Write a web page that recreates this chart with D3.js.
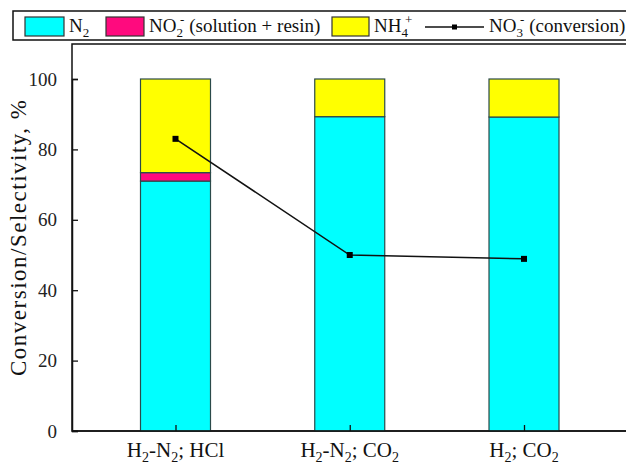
<!DOCTYPE html>
<html><head><meta charset="utf-8">
<script src="https://cdn.jsdelivr.net/npm/d3@7"></script>
<style>
body{margin:0;background:#fff}
svg{display:block}
svg text, svg tspan{font-family:"Liberation Serif", Tinos, "Nimbus Roman", FreeSerif, "Times New Roman" !important;}
</style>
</head><body>
<svg id="c" width="626" height="467" font-family="Liberation Serif"></svg>
<script>
const categories = [["H","2","-N","2","; HCl"],["H","2","-N","2","; CO","2"],["H","2","; CO","2"]];
const catKeys = ["H2-N2; HCl","H2-N2; CO2","H2; CO2"];
const n2 = [71, 89.3, 89.2];
const no2 = [2.4, 0, 0];
const nh4 = [26.6, 10.7, 10.8];
const no3Conversion = [83, 50, 48.9];
const yTicks = [0, 20, 40, 60, 80, 100];

(function () {
const FONT = "Liberation Serif";
const svg = d3.select("#c");
const pLeft = 72, pTop = 44, pBottom = 431, pRight = 660;
const y = d3.scaleLinear().domain([0, 100]).range([pBottom, 79]);
const x = d3.scalePoint().domain(catKeys).range([175.5, 524]);
const barW = 70;

// frame
svg.append("rect").attr("x", pLeft).attr("y", pTop).attr("width", pRight - pLeft).attr("height", pBottom - pTop)
  .attr("fill", "none").attr("stroke", "#111").attr("stroke-width", 1.5);

// stacked bars
const stackData = catKeys.map((k, i) => ({key: k, n2: n2[i], no2: no2[i], nh4: nh4[i]}));
const stack = d3.stack().keys(["n2", "no2", "nh4"])(stackData);
const colors = {n2: "#00FFFF", no2: "#FF0A7E", nh4: "#FFFF00"};
stack.forEach(layer => {
  svg.append("g").selectAll("rect").data(layer.filter(d => d[1] - d[0] > 0)).join("rect")
    .attr("x", d => x(d.data.key) - barW / 2)
    .attr("width", barW)
    .attr("y", d => y(d[1]))
    .attr("height", d => y(d[0]) - y(d[1]))
    .attr("fill", colors[layer.key])
    .attr("stroke", "#2b4a4a").attr("stroke-width", 1.2);
});

// y axis (ticks inward)
const yAxis = d3.axisRight(y).tickValues(yTicks).tickSize(6).tickFormat(d3.format("d"));
const ga = svg.append("g").attr("transform", `translate(${pLeft},0)`).call(yAxis)
  .attr("font-family", FONT);
ga.select(".domain").attr("stroke", "#111").attr("stroke-width", 1.5);
ga.selectAll(".tick line").attr("stroke", "#111").attr("stroke-width", 1.3);
ga.selectAll(".tick text").attr("x", -15).attr("text-anchor", "end")
  .attr("font-family", FONT).attr("font-size", 19).attr("fill", "#222");

// x axis ticks inward
const xAxis = d3.axisTop(x).tickSize(6).tickFormat("");
const gx = svg.append("g").attr("transform", `translate(0,${pBottom})`).call(xAxis);
gx.select(".domain").remove();
gx.selectAll(".tick line").attr("stroke", "#111").attr("stroke-width", 1.3);
svg.append("line").attr("x1", pLeft).attr("x2", pRight).attr("y1", pBottom).attr("y2", pBottom)
  .attr("stroke", "#111").attr("stroke-width", 1.5);

// x labels with subscripts
function richText(g, parts) {
  parts.forEach((p, j) => {
    const isSub = /^[0-9]$/.test(p);
    g.append("tspan").text(p)
      .attr("font-size", isSub ? 14 : 21)
      .attr("dy", isSub ? 5 : (j > 0 && /^[0-9]$/.test(parts[j - 1]) ? -5 : 0));
  });
}
catKeys.forEach((k, i) => {
  const t = svg.append("text").attr("x", x(k)).attr("y", 457).attr("text-anchor", "middle")
    .attr("font-family", FONT).attr("fill", "#111");
  richText(t, categories[i]);
});

// y label
svg.append("text").attr("transform", "translate(26,238) rotate(-90)").attr("text-anchor", "middle")
  .attr("font-family", FONT).attr("font-size", 23).attr("fill", "#111")
  .attr("textLength", 276).attr("lengthAdjust", "spacing")
  .text("Conversion/Selectivity, %");

// line
const line = d3.line().x((d, i) => x(catKeys[i])).y(d => y(d));
svg.append("path").datum(no3Conversion).attr("d", line).attr("fill", "none").attr("stroke", "#111").attr("stroke-width", 1.5);
svg.append("g").selectAll("rect").data(no3Conversion).join("rect")
  .attr("x", (d, i) => x(catKeys[i]) - 3).attr("y", d => y(d) - 3).attr("width", 6).attr("height", 6).attr("fill", "#000");

// legend
const lg = svg.append("g");
lg.append("rect").attr("x", 13).attr("y", 11).attr("width", 640).attr("height", 29).attr("fill", "#fff")
  .attr("stroke", "#111").attr("stroke-width", 1.5);
function sw(x0, x1, c) {
  lg.append("rect").attr("x", x0).attr("y", 17).attr("width", x1 - x0).attr("height", 19).attr("fill", c)
    .attr("stroke", "#333").attr("stroke-width", 1.2);
}
function legText(x0, parts) {
  const t = lg.append("text").attr("x", x0).attr("y", 32).attr("font-family", FONT).attr("font-size", 19).attr("fill", "#111");
  parts.forEach(p => {
    const ts = t.append("tspan").text(p.t);
    if (p.sub) ts.attr("font-size", 13).attr("dy", 5);
    else if (p.sup) ts.attr("font-size", 13).attr("dy", -13);
    else if (p.reset) ts.attr("dy", p.reset);
    if (p.dx) ts.attr("dx", p.dx);
  });
}
sw(25, 64, colors.n2);
legText(69, [{t: "N"}, {t: "2", sub: true}]);
sw(106, 144, colors.no2);
legText(149, [{t: "NO"}, {t: "2", sub: true}, {t: "-", sup: true, dx: -3}, {t: "(solution + resin)", reset: 8, dx: 5}]);
sw(332, 369, colors.nh4);
legText(374, [{t: "NH"}, {t: "4", sub: true}, {t: "+", sup: true, dx: -3}]);
lg.append("line").attr("x1", 425).attr("x2", 484).attr("y1", 27).attr("y2", 27).attr("stroke", "#111").attr("stroke-width", 1.5);
lg.append("rect").attr("x", 452).attr("y", 24.5).attr("width", 5).attr("height", 5).attr("fill", "#000");
legText(489, [{t: "NO"}, {t: "3", sub: true}, {t: "-", sup: true, dx: -3}, {t: "(conversion)", reset: 8, dx: 5}]);
})();
</script>
</body></html>
